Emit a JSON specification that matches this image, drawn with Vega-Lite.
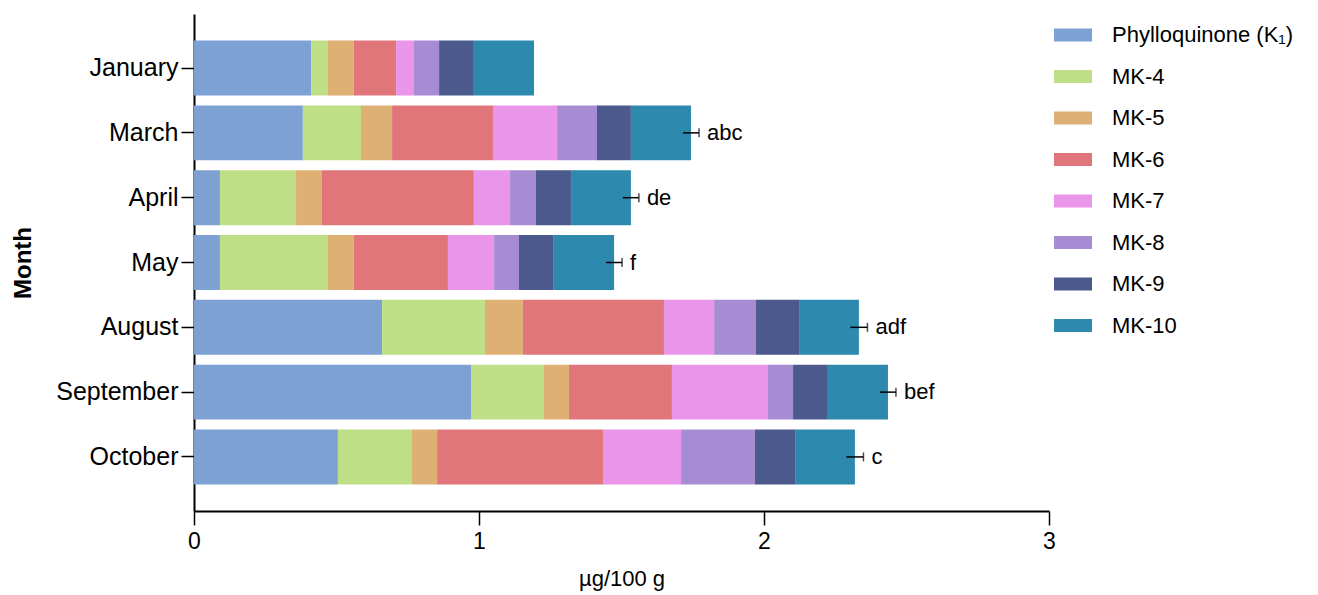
{
  "$schema": "https://vega.github.io/schema/vega-lite/v6.json",
  "width": 855,
  "height": 497,
  "autosize": {"type": "none"},
  "padding": {"left": 194, "top": 14, "right": 269, "bottom": 84},
  "background": "white",
  "config": {
    "font": "Liberation Sans",
    "view": {"stroke": null},
    "axis": {"domainColor": "black", "tickColor": "black", "labelColor": "black", "titleColor": "black", "grid": false}
  },
  "datasets": {
    "parts": [
      {"month": "January", "compound": "Phylloquinone (K₁)", "rank": 0, "value": 0.411},
      {"month": "January", "compound": "MK-4", "rank": 1, "value": 0.059},
      {"month": "January", "compound": "MK-5", "rank": 2, "value": 0.091},
      {"month": "January", "compound": "MK-6", "rank": 3, "value": 0.148},
      {"month": "January", "compound": "MK-7", "rank": 4, "value": 0.063},
      {"month": "January", "compound": "MK-8", "rank": 5, "value": 0.088},
      {"month": "January", "compound": "MK-9", "rank": 6, "value": 0.122},
      {"month": "January", "compound": "MK-10", "rank": 7, "value": 0.211},
      {"month": "March", "compound": "Phylloquinone (K₁)", "rank": 0, "value": 0.382},
      {"month": "March", "compound": "MK-4", "rank": 1, "value": 0.204},
      {"month": "March", "compound": "MK-5", "rank": 2, "value": 0.109},
      {"month": "March", "compound": "MK-6", "rank": 3, "value": 0.354},
      {"month": "March", "compound": "MK-7", "rank": 4, "value": 0.225},
      {"month": "March", "compound": "MK-8", "rank": 5, "value": 0.140},
      {"month": "March", "compound": "MK-9", "rank": 6, "value": 0.119},
      {"month": "March", "compound": "MK-10", "rank": 7, "value": 0.211},
      {"month": "April", "compound": "Phylloquinone (K₁)", "rank": 0, "value": 0.091},
      {"month": "April", "compound": "MK-4", "rank": 1, "value": 0.267},
      {"month": "April", "compound": "MK-5", "rank": 2, "value": 0.091},
      {"month": "April", "compound": "MK-6", "rank": 3, "value": 0.533},
      {"month": "April", "compound": "MK-7", "rank": 4, "value": 0.127},
      {"month": "April", "compound": "MK-8", "rank": 5, "value": 0.091},
      {"month": "April", "compound": "MK-9", "rank": 6, "value": 0.123},
      {"month": "April", "compound": "MK-10", "rank": 7, "value": 0.210},
      {"month": "May", "compound": "Phylloquinone (K₁)", "rank": 0, "value": 0.091},
      {"month": "May", "compound": "MK-4", "rank": 1, "value": 0.379},
      {"month": "May", "compound": "MK-5", "rank": 2, "value": 0.091},
      {"month": "May", "compound": "MK-6", "rank": 3, "value": 0.330},
      {"month": "May", "compound": "MK-7", "rank": 4, "value": 0.162},
      {"month": "May", "compound": "MK-8", "rank": 5, "value": 0.087},
      {"month": "May", "compound": "MK-9", "rank": 6, "value": 0.120},
      {"month": "May", "compound": "MK-10", "rank": 7, "value": 0.214},
      {"month": "August", "compound": "Phylloquinone (K₁)", "rank": 0, "value": 0.660},
      {"month": "August", "compound": "MK-4", "rank": 1, "value": 0.361},
      {"month": "August", "compound": "MK-5", "rank": 2, "value": 0.133},
      {"month": "August", "compound": "MK-6", "rank": 3, "value": 0.495},
      {"month": "August", "compound": "MK-7", "rank": 4, "value": 0.176},
      {"month": "August", "compound": "MK-8", "rank": 5, "value": 0.147},
      {"month": "August", "compound": "MK-9", "rank": 6, "value": 0.151},
      {"month": "August", "compound": "MK-10", "rank": 7, "value": 0.210},
      {"month": "September", "compound": "Phylloquinone (K₁)", "rank": 0, "value": 0.972},
      {"month": "September", "compound": "MK-4", "rank": 1, "value": 0.256},
      {"month": "September", "compound": "MK-5", "rank": 2, "value": 0.088},
      {"month": "September", "compound": "MK-6", "rank": 3, "value": 0.361},
      {"month": "September", "compound": "MK-7", "rank": 4, "value": 0.337},
      {"month": "September", "compound": "MK-8", "rank": 5, "value": 0.088},
      {"month": "September", "compound": "MK-9", "rank": 6, "value": 0.119},
      {"month": "September", "compound": "MK-10", "rank": 7, "value": 0.214},
      {"month": "October", "compound": "Phylloquinone (K₁)", "rank": 0, "value": 0.505},
      {"month": "October", "compound": "MK-4", "rank": 1, "value": 0.260},
      {"month": "October", "compound": "MK-5", "rank": 2, "value": 0.088},
      {"month": "October", "compound": "MK-6", "rank": 3, "value": 0.582},
      {"month": "October", "compound": "MK-7", "rank": 4, "value": 0.274},
      {"month": "October", "compound": "MK-8", "rank": 5, "value": 0.259},
      {"month": "October", "compound": "MK-9", "rank": 6, "value": 0.141},
      {"month": "October", "compound": "MK-10", "rank": 7, "value": 0.210}
    ],
    "totals": [
      {"month": "March", "total": 1.744, "lower": 1.716, "upper": 1.772, "letters": "abc"},
      {"month": "April", "total": 1.533, "lower": 1.505, "upper": 1.561, "letters": "de"},
      {"month": "May", "total": 1.474, "lower": 1.446, "upper": 1.502, "letters": "f"},
      {"month": "August", "total": 2.333, "lower": 2.303, "upper": 2.363, "letters": "adf"},
      {"month": "September", "total": 2.435, "lower": 2.407, "upper": 2.463, "letters": "bef"},
      {"month": "October", "total": 2.319, "lower": 2.289, "upper": 2.349, "letters": "c"}
    ]
  },
  "encoding": {
    "y": {
      "field": "month", "type": "nominal",
      "sort": ["January", "March", "April", "May", "August", "September", "October"],
      "scale": {"paddingInner": 0.152, "paddingOuter": 0.41},
      "axis": {"title": "Month", "titleFontSize": 24, "titleFontWeight": "bold", "titlePadding": 20, "labelFontSize": 25, "labelPadding": 3, "tickSize": 13, "tickWidth": 1.5, "domainWidth": 2}
    }
  },
  "layer": [
    {
      "data": {"name": "parts"},
      "mark": {"type": "bar"},
      "encoding": {
        "x": {
          "field": "value", "type": "quantitative", "stack": "zero",
          "scale": {"domain": [0, 3], "nice": false},
          "axis": {"title": "µg/100 g", "values": [0, 1, 2, 3], "labelFlush": false, "titleFontSize": 22, "titleFontWeight": "normal", "titlePadding": 15, "labelFontSize": 23, "labelPadding": 5, "tickSize": 14, "tickWidth": 1.5, "domainWidth": 2, "format": "d"}
        },
        "order": {"field": "rank", "type": "quantitative"},
        "color": {
          "field": "compound", "type": "nominal",
          "scale": {
            "domain": ["Phylloquinone (K₁)", "MK-4", "MK-5", "MK-6", "MK-7", "MK-8", "MK-9", "MK-10"],
            "range": ["#7EA1D4", "#BFDF87", "#DEB073", "#E0767A", "#E995E9", "#A68CD3", "#4B598C", "#2D8AAE"]
          },
          "legend": {
            "title": null, "orient": "none", "legendX": 860, "legendY": 2,
            "symbolType": "M-1,-0.34H1V0.34H-1Z", "symbolSize": 1444, "symbolStrokeWidth": 0,
            "labelFontSize": 22, "labelColor": "black", "labelOffset": 20, "rowPadding": 11.5, "labelLimit": 300
          }
        }
      }
    },
    {
      "data": {"name": "totals"},
      "mark": {"type": "rule", "color": "black", "strokeWidth": 1.5},
      "encoding": {
        "x": {"field": "lower", "type": "quantitative"},
        "x2": {"field": "upper"}
      }
    },
    {
      "data": {"name": "totals"},
      "mark": {"type": "tick", "color": "black", "thickness": 1.5, "size": 9, "orient": "vertical"},
      "encoding": {
        "x": {"field": "upper", "type": "quantitative"}
      }
    },
    {
      "data": {"name": "totals"},
      "mark": {"type": "text", "align": "left", "baseline": "middle", "dx": 8, "fontSize": 22, "color": "black"},
      "encoding": {
        "x": {"field": "upper", "type": "quantitative"},
        "text": {"field": "letters"}
      }
    }
  ]
}
